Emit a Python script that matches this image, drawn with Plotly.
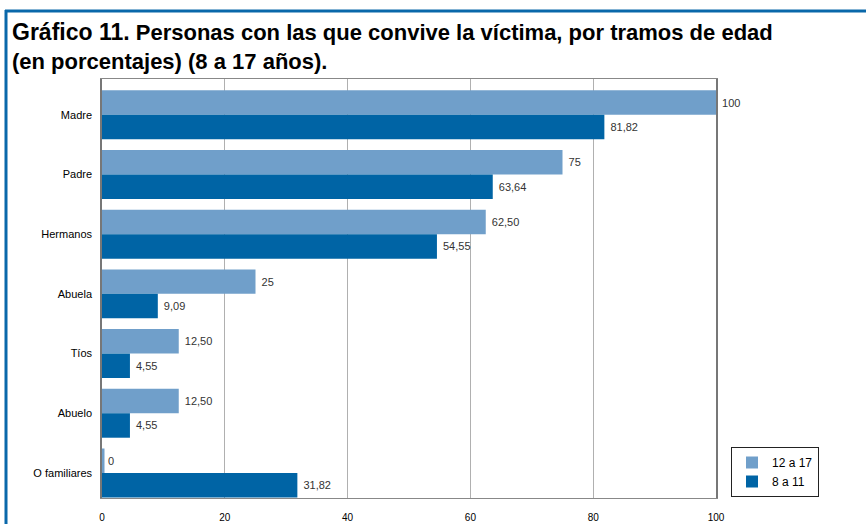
import plotly.graph_objects as go

categories = ["Madre", "Padre", "Hermanos", "Abuela", "Tíos", "Abuelo", "O familiares"]
series_12_17 = [100, 75, 62.50, 25, 12.50, 12.50, 0]
series_8_11 = [81.82, 63.64, 54.55, 9.09, 4.55, 4.55, 31.82]
x_ticks = [0, 20, 40, 60, 80, 100]

LIGHT = "#709fca"
DARK = "#0064a5"
FRAME = "#0a68aa"


def fmt(v):
    if float(v).is_integer():
        return str(int(v))
    return f"{v:.2f}".replace(".", ",")


W, H = 866, 524
L, R, T, B = 102, 716, 79, 498


def px_x(p):
    return (p - L) / (R - L)


def px_y(p):
    return (B - p) / (B - T)


fig = go.Figure()
fig.add_trace(go.Bar(
    y=categories, x=series_12_17, orientation="h", name="12 a 17",
    marker=dict(color=LIGHT,
                line=dict(color=LIGHT, width=[5 if v == 0 else 0 for v in series_12_17])),
    text=[fmt(v) for v in series_12_17], texttemplate=" %{text}",
    textposition="outside", cliponaxis=False,
    textfont=dict(size=11, color="#333333", family="Liberation Sans"),
))
fig.add_trace(go.Bar(
    y=categories, x=series_8_11, orientation="h", name="8 a 11",
    marker=dict(color=DARK, line=dict(width=0)),
    text=[fmt(v) for v in series_8_11], texttemplate=" %{text}",
    textposition="outside", cliponaxis=False,
    textfont=dict(size=11, color="#333333", family="Liberation Sans"),
))

fig.update_layout(
    width=W, height=H,
    margin=dict(l=L, r=W - R, t=T, b=H - B, pad=0, autoexpand=False),
    paper_bgcolor="white", plot_bgcolor="white",
    barmode="group", bargap=0.18, bargroupgap=0,
    font=dict(family="Liberation Sans", color="black"),
    showlegend=True,
    legend=dict(x=px_x(731), y=px_y(447), xanchor="left", yanchor="top",
                bordercolor="#222222", borderwidth=1, bgcolor="white",
                font=dict(size=12, color="black"), traceorder="normal",
                itemwidth=30, tracegroupgap=2),
    xaxis=dict(range=[0, 100], tickvals=x_ticks, ticktext=[str(t) for t in x_ticks],
               showgrid=True, gridcolor="#b0b0b0", gridwidth=1,
               showline=True, linecolor="#888888", linewidth=1, mirror=True,
               zeroline=False, ticks="", ticklen=0, automargin=False,
               tickfont=dict(size=10, color="black"), fixedrange=True),
    yaxis=dict(categoryorder="array", categoryarray=categories,
               range=[len(categories) - 1 + 0.42, -0.6],
               showgrid=False, showline=True, linecolor="#777777", linewidth=1.5,
               mirror=True, ticks="", ticklen=0, automargin=False,
               tickfont=dict(size=11, color="black"), fixedrange=True),
    shapes=[
        dict(type="line", xref="paper", yref="paper",
             x0=px_x(5), x1=px_x(880), y0=px_y(11), y1=px_y(11),
             line=dict(color=FRAME, width=3)),
        dict(type="line", xref="paper", yref="paper",
             x0=px_x(6), x1=px_x(6), y0=px_y(10), y1=px_y(540),
             line=dict(color=FRAME, width=3)),
    ],
    annotations=[
        dict(xref="paper", yref="paper", x=px_x(10), y=px_y(17),
             xanchor="left", yanchor="top", align="left", showarrow=False,
             text="<b><span style='font-size:23px'>Gráfico 11.</span> Personas con las que convive la víctima, por tramos de edad<br>(en porcentajes) (8 a 17 años).</b>",
             font=dict(family="Liberation Sans", size=22, color="black")),
    ],
)
fig.update_xaxes(ticklabelstandoff=10)
fig.update_yaxes(ticklabelstandoff=6)

fig.write_html("out.html",
               config={"displayModeBar": False},
               post_script="document.body.style.margin='0';document.body.style.padding='0';")
